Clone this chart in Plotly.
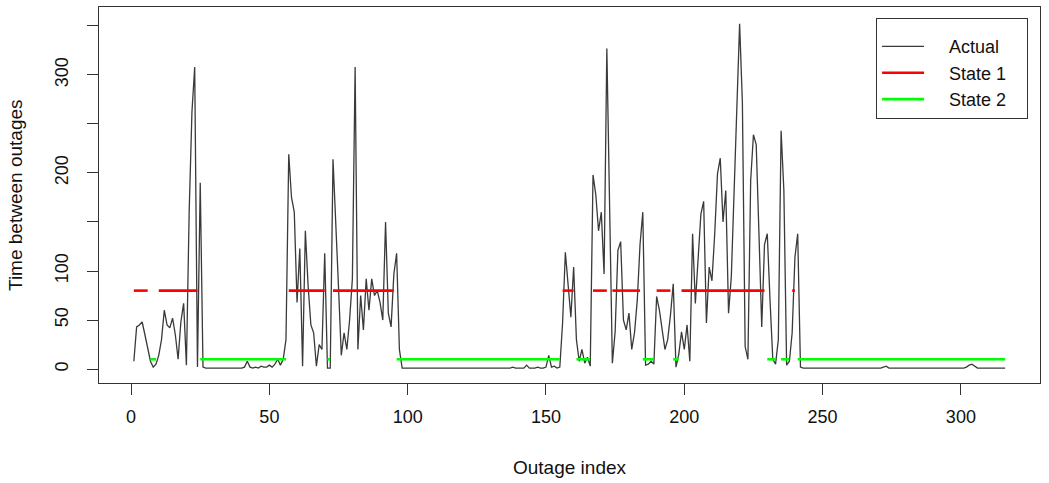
import plotly.graph_objects as go

# ---- data ----
actual = [
    8, 43, 45, 48, 35, 22, 8, 2, 5, 14,            # 1-10
    30, 60, 45, 42, 52, 35, 10, 48, 67, 4,         # 11-20
    160, 262, 308, 2, 190, 2, 1, 1, 1, 1,          # 21-30
    1, 1, 1, 1, 1, 1, 1, 1, 1, 1,                  # 31-40
    2, 8, 2, 1, 2, 1, 3, 2, 2, 4,                  # 41-50
    2, 5, 10, 4, 10, 30, 219, 175, 160, 68,        # 51-60
    123, 3, 141, 85, 45, 37, 3, 25, 20, 118,       # 61-70
    1, 1, 214, 140, 83, 14, 37, 20, 50, 92,        # 71-80
    308, 20, 75, 40, 92, 60, 92, 75, 80, 68,       # 81-90
    50, 150, 57, 43, 97, 118, 20, 1, 1, 1,         # 91-100
    1, 1, 1, 1, 1, 1, 1, 1, 1, 1,                  # 101-110
    1, 1, 1, 1, 1, 1, 1, 1, 1, 1,                  # 111-120
    1, 1, 1, 1, 1, 1, 1, 1, 1, 1,                  # 121-130
    1, 1, 1, 1, 1, 1, 1, 2, 1, 1,                  # 131-140
    1, 1, 4, 1, 1, 1, 2, 1, 1, 2,                  # 141-150
    14, 2, 3, 1, 2, 47, 119, 87, 53, 104,          # 151-160
    30, 8, 20, 6, 12, 3, 198, 178, 141, 160,       # 161-170
    97, 327, 165, 6, 38, 121, 130, 50, 40, 57,     # 171-180
    20, 37, 70, 127, 160, 4, 5, 8, 5, 74,          # 181-190
    60, 37, 20, 30, 55, 87, 2, 15, 38, 20,         # 191-200
    45, 8, 138, 67, 117, 158, 171, 47, 104, 90,    # 201-210
    138, 199, 215, 150, 182, 57, 94, 175, 269, 352,# 211-220
    272, 23, 10, 192, 239, 229, 138, 43, 127, 138, # 221-230
    70, 10, 5, 30, 243, 182, 4, 8, 37, 114,        # 231-240
    138, 2, 1, 1, 1, 1, 1, 1, 1, 1,               # 241-250
    1, 1, 1, 1, 1, 1, 1, 1, 1, 1,                  # 251-260
    1, 1, 1, 1, 1, 1, 1, 1, 1, 1,                  # 261-270
    1, 2, 3, 1, 1, 1, 1, 1, 1, 1,                  # 271-280
    1, 1, 1, 1, 1, 1, 1, 1, 1, 1,                  # 281-290
    1, 1, 1, 1, 1, 1, 1, 1, 1, 1,                  # 291-300
    1, 2, 4, 5, 3, 1, 1, 1, 1, 1,                  # 301-310
    1, 1, 1, 1, 1, 1,                              # 311-316
]

# hidden-state runs: (first index, last index, state)
state_runs = [
    (1, 6, 1), (7, 9, 2), (10, 24, 1), (25, 56, 2), (57, 70, 1),
    (71, 72, 2), (73, 95, 1), (96, 155, 2), (156, 160, 1), (161, 166, 2),
    (167, 172, 1), (173, 173, 2), (174, 184, 1), (185, 189, 2), (190, 195, 1),
    (196, 198, 2), (199, 229, 1), (230, 233, 2), (234, 234, 1), (235, 238, 2),
    (239, 240, 1), (241, 316, 2),
]
state_levels = {1: 80, 2: 10}
series_names = ["Actual", "State 1", "State 2"]

x_ticks = [0, 50, 100, 150, 200, 250, 300]
y_ticks = [0, 50, 100, 150, 200, 250, 300, 350]
y_tick_text = ["0", "50", "100", "", "200", "", "300", ""]

# ---- build ----
index = list(range(1, len(actual) + 1))
state = [None] * len(actual)
for s, e, k in state_runs:
    for i in range(s, e + 1):
        state[i - 1] = k
state1 = [state_levels[1] if st == 1 else None for st in state]
state2 = [state_levels[2] if st == 2 else None for st in state]

FONT = "Liberation Sans, Arial, Helvetica, sans-serif"
AX = "#333333"
NB = "\u00a0"


def legend_label(name):
    # pad so the legend box matches the reference's roomy layout
    return NB * 4 + name + NB * 3


fig = go.Figure()
fig.add_trace(go.Scatter(x=index, y=actual, mode="lines", name=legend_label(series_names[0]),
                         line=dict(color="#3a3a3a", width=1.3)))
fig.add_trace(go.Scatter(x=index, y=state1, mode="lines", name=legend_label(series_names[1]),
                         line=dict(color="#ff0000", width=2.6), connectgaps=False))
fig.add_trace(go.Scatter(x=index, y=state2, mode="lines", name=legend_label(series_names[2]),
                         line=dict(color="#00ff00", width=2.6), connectgaps=False))

axis_common = dict(showgrid=False, zeroline=False, showline=True, mirror=True,
                   linecolor=AX, linewidth=1, ticks="outside", ticklen=11,
                   tickcolor=AX, tickwidth=1, automargin=False,
                   tickfont=dict(family=FONT, size=18, color="#111111"))

fig.update_layout(
    template="none",
    width=1049, height=483, autosize=False,
    margin=dict(l=99, r=9, t=7, b=100, pad=0),
    paper_bgcolor="white", plot_bgcolor="white",
    font=dict(family=FONT, color="#111111"),
    xaxis=dict(range=[-11.6, 328.6], tickvals=x_ticks, ticklabelstandoff=6,
               **axis_common),
    yaxis=dict(range=[-14.2, 369.2], tickvals=y_ticks, ticktext=y_tick_text,
               tickangle=-90, ticklabelstandoff=12, **axis_common),
    showlegend=True,
    legend=dict(x=0.9873, xanchor="right", y=0.9707, yanchor="top",
                bgcolor="white", bordercolor=AX, borderwidth=1,
                font=dict(family=FONT, size=18, color="#111111"),
                itemwidth=42, tracegroupgap=0,
                title=dict(text=NB, font=dict(size=7))),
    annotations=[
        dict(text="Outage index", xref="paper", yref="paper", x=0.5, y=0,
             yshift=-84, xanchor="center", yanchor="middle", showarrow=False,
             font=dict(family=FONT, size=19, color="#111111")),
        dict(text="Time between outages", xref="paper", yref="paper", x=0, y=0.5,
             xshift=-84, xanchor="center", yanchor="middle", showarrow=False,
             textangle=-90, font=dict(family=FONT, size=19, color="#111111")),
    ],
)

fig.write_html("out.html",
               config={"displayModeBar": False},
               post_script="document.body.style.margin='0';document.body.style.padding='0';")
